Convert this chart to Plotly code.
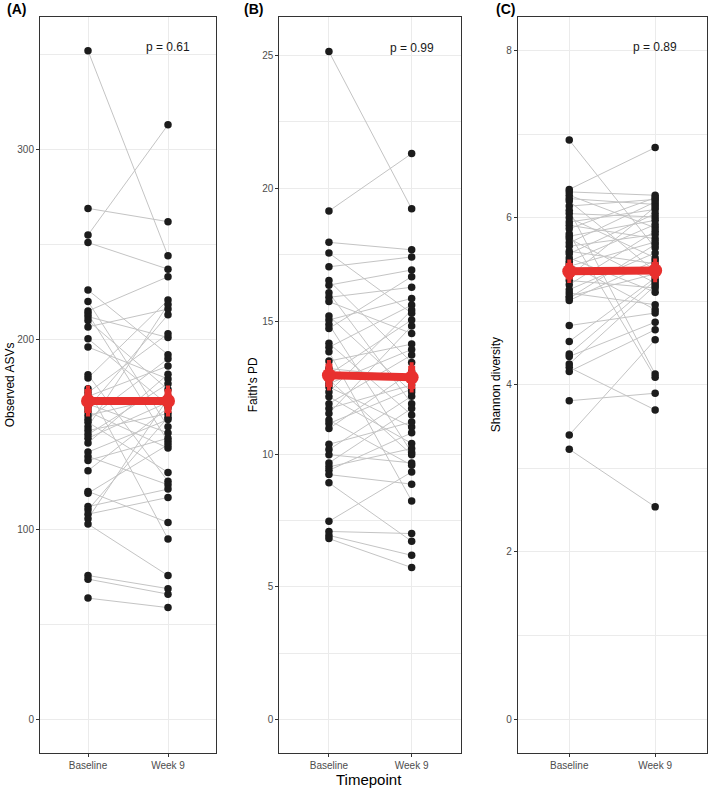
import plotly.graph_objects as go

timepoints = ["Baseline", "Week 9"]

# Panel A: Observed ASVs (paired by subject)
asv_baseline = [352, 269, 255, 251, 226, 220, 215, 213.5, 212, 210, 206.6, 200.4, 196, 181.4, 179.7,
                174, 172, 170, 166, 164, 162, 160, 158, 156.4, 154, 152, 149.9, 148, 145.5, 140.7,
                138.4, 136.3, 130.9, 120, 119, 112, 110.3, 108, 105.6, 102.8, 75.7, 73.8, 63.8]
asv_week9 = [244, 262, 313, 237, 192, 154, 233, 146.3, 201, 173.6, 216, 165.5, 179.2, 125.3, 220.7,
             94.9, 203, 186, 150.8, 213, 142.8, 170, 189.8, 130, 218.4, 161, 176.7, 167, 181.7, 157.8,
             123.5, 148, 164, 103.6, 144.6, 121.2, 159, 116.8, 169, 75.7, 68.8, 65.9, 58.8]

# Panel B: Faith's PD
pd_baseline = [25.15, 19.15, 17.97, 17.57, 17.05, 16.53, 16.36, 16.07, 15.9, 15.74, 15.2, 15.05, 14.88,
               14.73, 14.17, 14.02, 13.85, 13.5, 13.22, 13.0, 12.8, 12.65, 12.53, 12.34, 12.16, 11.9,
               11.72, 11.53, 11.28, 11.15, 10.96, 10.37, 10.17, 9.98, 9.67, 9.52, 9.39, 9.23, 8.92,
               7.47, 7.09, 6.94, 6.82]
pd_week9 = [19.23, 21.31, 17.69, 15.3, 17.42, 13.45, 16.93, 11.9, 16.28, 14.54, 12.34, 15.86, 10.06,
            16.68, 11.47, 15.61, 8.24, 14.14, 12.9, 15.05, 9.98, 13.94, 11.02, 15.42, 10.4, 13.73,
            12.6, 14.82, 9.58, 12.45, 13.1, 11.21, 12.18, 9.67, 11.72, 10.21, 10.8, 8.87, 6.72,
            9.33, 7.01, 6.19, 5.73]

# Panel C: Shannon diversity
sh_baseline = [6.93, 6.34, 6.31, 6.27, 6.23, 6.2, 6.14, 6.09, 6.05, 6.0, 5.95, 5.91, 5.87, 5.81, 5.78,
               5.75, 5.70, 5.66, 5.60, 5.57, 5.52, 5.48, 5.45, 5.42, 5.36, 5.30, 5.25, 5.2, 5.14, 5.10,
               5.06, 5.04, 5.01, 4.71, 4.52, 4.37, 4.34, 4.25, 4.21, 4.16, 3.81, 3.40, 3.23]
sh_week9 = [5.64, 6.84, 6.27, 5.88, 6.16, 5.36, 6.22, 4.13, 6.01, 5.52, 6.10, 5.75, 6.24, 4.09, 5.97,
            5.22, 6.19, 5.80, 5.45, 6.05, 5.11, 5.92, 4.90, 5.71, 5.40, 6.13, 5.16, 5.84, 5.58, 4.96,
            5.33, 5.68, 5.49, 4.86, 5.28, 5.25, 4.75, 5.19, 3.70, 4.66, 3.90, 4.54, 2.54]

# Group means and standard errors
asv_mean = [167.6, 167.6]
asv_se = [6.3, 6.3]
pd_mean = [12.97, 12.89]
pd_se = [0.44, 0.44]
sh_mean = [5.36, 5.37]
sh_se = [0.1, 0.1]

p_labels = ["p = 0.61", "p = 0.99", "p = 0.89"]
p_label_y = [354, 25.3, 8.04]
y_titles = ["Observed ASVs", "Faith's PD", "Shannon diversity"]
panel_tags = ["(A)", "(B)", "(C)"]

W, H = 709, 790
FONT = "Liberation Sans, Arial, Helvetica, sans-serif"
GRID = "#EBEBEB"
BORDER = "#333333"
TICKCOL = "#4D4D4D"
RED = "#E8302E"
POINT = "#1C1C1C"
LINEGREY = "#C4C4C4"

panels = [
    dict(b=asv_baseline, w=asv_week9, m=asv_mean, se=asv_se, xdom=(40, 216),
         yrange=[-17.9, 369.6], dtick=100, title_x=10),
    dict(b=pd_baseline, w=pd_week9, m=pd_mean, se=pd_se, xdom=(279.3, 461.3),
         yrange=[-1.26, 26.44], dtick=5, title_x=253),
    dict(b=sh_baseline, w=sh_week9, m=sh_mean, se=sh_se, xdom=(517.7, 706.7),
         yrange=[-0.41, 8.4], dtick=2, title_x=496),
]

top_px, bot_px = 17.3, 753.3
ydom = [1 - bot_px / H, 1 - top_px / H]

fig = go.Figure()
layout = dict(
    width=W, height=H, margin=dict(l=0, r=0, t=0, b=0),
    paper_bgcolor="white", plot_bgcolor="white", showlegend=False,
    font=dict(family=FONT),
)
annotations = []

for i, p in enumerate(panels):
    sfx = "" if i == 0 else str(i + 1)
    xa, ya = "x" + sfx, "y" + sfx
    xs, ys = [], []
    for b, w in zip(p["b"], p["w"]):
        xs += [1, 2, None]
        ys += [b, w, None]
    fig.add_trace(go.Scatter(x=xs, y=ys, mode="lines", xaxis=xa, yaxis=ya,
                             line=dict(color=LINEGREY, width=1), hoverinfo="skip"))
    fig.add_trace(go.Scatter(x=[1] * len(p["b"]) + [2] * len(p["w"]), y=p["b"] + p["w"],
                             mode="markers", xaxis=xa, yaxis=ya,
                             marker=dict(color=POINT, size=7.5)))
    fig.add_trace(go.Scatter(x=[1, 2], y=p["m"], mode="lines+markers", xaxis=xa, yaxis=ya,
                             line=dict(color=RED, width=8),
                             marker=dict(color=RED, size=14),
                             error_y=dict(type="data", array=p["se"], color=RED,
                                          thickness=7, width=2)))
    x0, x1 = p["xdom"]
    layout["xaxis" + sfx] = dict(
        domain=[x0 / W, x1 / W], range=[0.4, 2.6], anchor=ya,
        tickvals=[1, 2], ticktext=timepoints, showgrid=True, gridcolor=GRID, gridwidth=1,
        zeroline=False, showline=True, linecolor=BORDER, linewidth=1, mirror=True,
        ticks="outside", ticklen=3, tickcolor=BORDER, tickwidth=1,
        tickfont=dict(size=10, color=TICKCOL, family=FONT),
    )
    layout["yaxis" + sfx] = dict(
        domain=ydom, range=p["yrange"], anchor=xa,
        tick0=0, dtick=p["dtick"], showgrid=True, gridcolor=GRID, gridwidth=1,
        minor=dict(tick0=0, dtick=p["dtick"] / 2, showgrid=True, gridcolor=GRID, gridwidth=0.6,
                   ticks=""),
        zeroline=False, showline=True, linecolor=BORDER, linewidth=1, mirror=True,
        ticks="outside", ticklen=3, tickcolor=BORDER, tickwidth=1,
        tickfont=dict(size=10, color=TICKCOL, family=FONT),
    )
    annotations.append(dict(x=2, y=p_label_y[i], xref=xa, yref=ya, text=p_labels[i],
                            showarrow=False, font=dict(size=12, color="#1A1A1A", family=FONT),
                            xanchor="center", yanchor="middle"))
    annotations.append(dict(x=p["title_x"] / W, y=1 - (top_px + bot_px) / 2 / H, xref="paper",
                            yref="paper", text=y_titles[i], textangle=-90, showarrow=False,
                            font=dict(size=12, color="black", family=FONT),
                            xanchor="center", yanchor="middle"))

tag_x = [5, 242, 494]
for i, t in enumerate(panel_tags):
    annotations.append(dict(x=tag_x[i] / W, y=1 - 9 / H, xref="paper", yref="paper",
                            text="<b>" + t + "</b>", showarrow=False,
                            font=dict(size=14, color="black", family=FONT),
                            xanchor="left", yanchor="middle"))

annotations.append(dict(x=368.5 / W, y=1 - 779 / H, xref="paper", yref="paper",
                        text="Timepoint", showarrow=False,
                        font=dict(size=15, color="black", family=FONT),
                        xanchor="center", yanchor="middle"))

layout["annotations"] = annotations
fig.update_layout(**layout)
fig.write_html("out.html")
